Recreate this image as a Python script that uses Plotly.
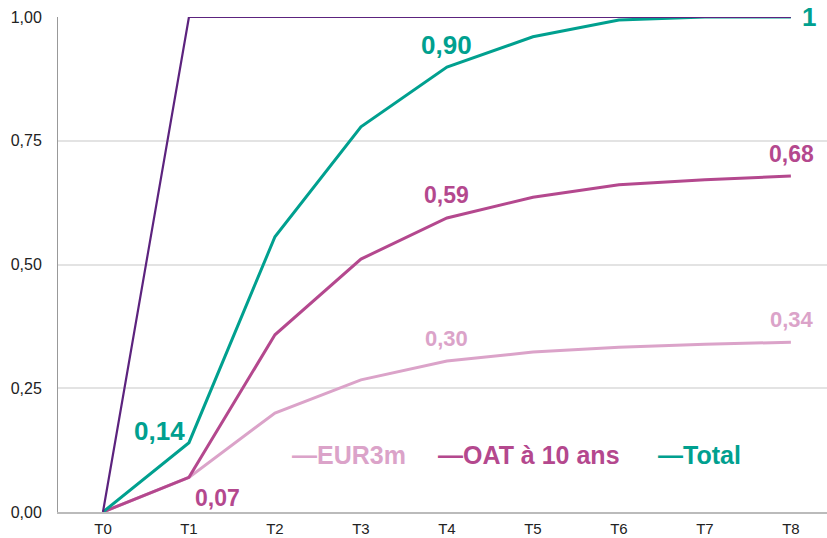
import plotly.graph_objects as go

categories = ["T0", "T1", "T2", "T3", "T4", "T5", "T6", "T7", "T8"]
eur3m = [0.0, 0.07, 0.20, 0.267, 0.305, 0.323, 0.333, 0.339, 0.343]
oat10 = [0.0, 0.07, 0.358, 0.511, 0.594, 0.636, 0.661, 0.671, 0.679]
total = [0.0, 0.14, 0.556, 0.778, 0.899, 0.960, 0.994, 1.0, 1.0]
cumul = [0.0, 1.0, 1.0, 1.0, 1.0, 1.0, 1.0, 1.0, 1.0]
y_ticks = [0, 0.25, 0.5, 0.75, 1.0]
legend_names = ["EUR3m", "OAT à 10 ans", "Total"]

C_PINK = "#DBA3C9"
C_MAG = "#B4488E"
C_TEAL = "#00A08F"
C_PURP = "#5C237E"

FONT = "Liberation Sans, Arial, sans-serif"

fig = go.Figure()
fig.add_trace(go.Scatter(x=categories, y=eur3m, mode="lines", name=legend_names[0],
                         line=dict(color=C_PINK, width=3), showlegend=False))
fig.add_trace(go.Scatter(x=categories, y=oat10, mode="lines", name=legend_names[1],
                         line=dict(color=C_MAG, width=3), showlegend=False))
fig.add_trace(go.Scatter(x=categories, y=total, mode="lines", name=legend_names[2],
                         line=dict(color=C_TEAL, width=3), showlegend=False))
fig.add_trace(go.Scatter(x=categories, y=cumul, mode="lines", line=dict(color=C_PURP, width=2.2),
                         showlegend=False, hoverinfo="skip"))

def fmt(v):
    return f"{v:.2f}".replace(".", ",")

ann = []
def lab(x, y, text, color, size, xanchor, yanchor, xshift=0, yshift=0):
    ann.append(dict(x=x, y=y, text="<b>" + text + "</b>", showarrow=False,
                    xanchor=xanchor, yanchor=yanchor, xshift=xshift, yshift=yshift,
                    font=dict(family=FONT, size=size, color=color)))

# Total labels
lab(1, total[1], fmt(total[1]), C_TEAL, 26, "right", "bottom", -2, -5)
lab(4, total[4], fmt(total[4]), C_TEAL, 26, "center", "bottom", 0, 5)
lab(8, total[8], "1", C_TEAL, 26, "left", "middle", 9, 0)
# OAT labels
lab(1, oat10[1], fmt(oat10[1]), C_MAG, 23, "left", "top", 4, -6)
lab(4, oat10[4], fmt(oat10[4]), C_MAG, 23, "center", "bottom", 0, 8)
lab(8, oat10[8], fmt(oat10[8]), C_MAG, 23, "center", "bottom", 1, 7)
# EUR3m labels
lab(4, eur3m[4], fmt(eur3m[4]), C_PINK, 22, "center", "bottom", 0, 8)
lab(8, eur3m[8], fmt(eur3m[8]), C_PINK, 22, "center", "bottom", 1, 8)

# Legend drawn as text entries
leg_x = [0.302, 0.4915, 0.7776]
for name, color, lx in zip(legend_names, [C_PINK, C_MAG, C_TEAL], leg_x):
    ann.append(dict(xref="paper", yref="paper", x=lx, y=0.115, text="<b>\u2014" + name + "</b>",
                    showarrow=False, xanchor="left", yanchor="middle",
                    font=dict(family=FONT, size=25, color=color)))

fig.update_layout(
    width=827, height=538,
    margin=dict(l=58, r=0, t=17, b=26),
    plot_bgcolor="white", paper_bgcolor="white",
    separators=", ",
    font=dict(family=FONT, size=13, color="#333333"),
    annotations=ann,
    showlegend=False,
    xaxis=dict(type="category", range=[-0.523, 8.42], showgrid=False, automargin=False,
               showline=True, linecolor="#BBBBBB", linewidth=1.5, ticks="",
               tickfont=dict(size=15, color="#222222"), ticklabelstandoff=2),
    yaxis=dict(range=[0, 1.0], tickvals=y_ticks, tickformat=".2f", automargin=False,
               showgrid=True, gridcolor="#E3E3E3", gridwidth=1.5,
               showline=True, linecolor="#999999", linewidth=1, zeroline=False,
               ticks="", tickfont=dict(size=16, color="#222222"), ticklabelstandoff=12),
)

fig.write_html("out.html", config={"displayModeBar": False},
               post_script="document.body.style.margin='0';document.body.style.overflow='hidden';")
